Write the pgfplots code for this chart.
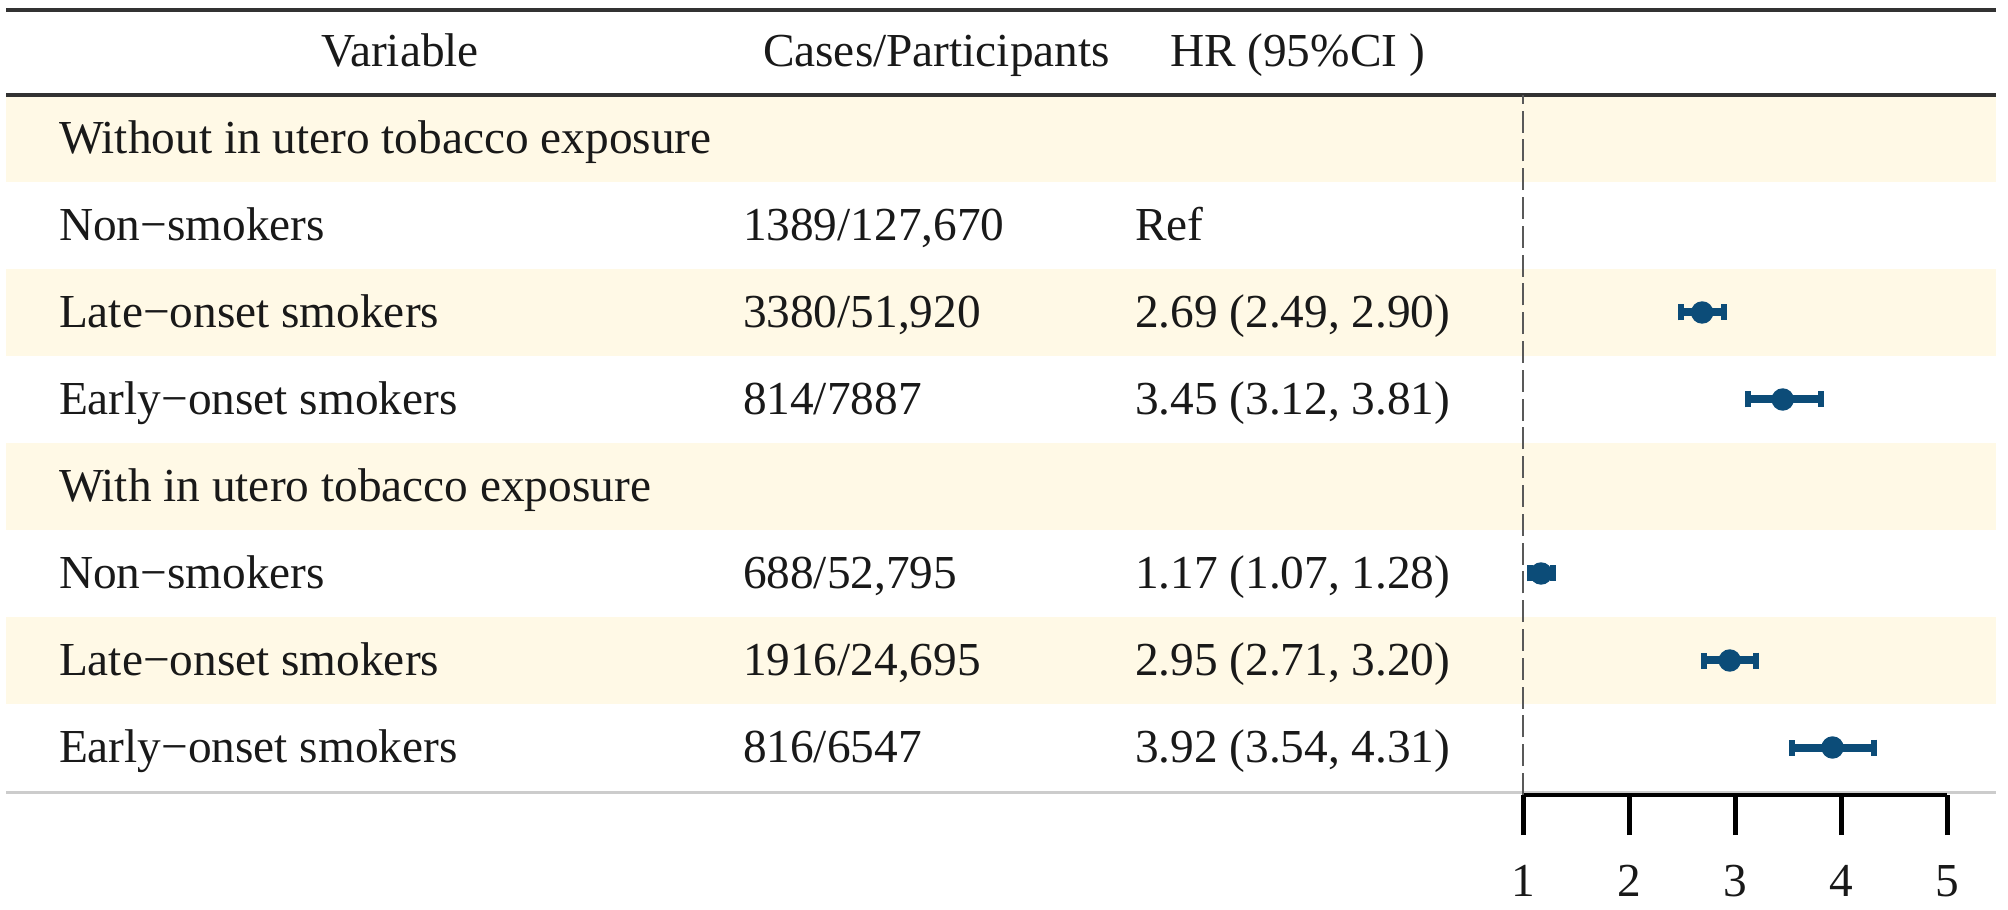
\documentclass[border=0pt]{standalone}
\usepackage{fontspec}
\setmainfont{Liberation Serif}
\usepackage{pgfplots}
\pgfplotsset{compat=1.18}
\definecolor{band}{RGB}{255,249,230}
\definecolor{ptc}{RGB}{12,76,120}
\definecolor{rulec}{RGB}{50,50,50}
\definecolor{txt}{RGB}{25,25,25}
\newcommand{\tf}{\fontsize{11.83pt}{14pt}\selectfont}
\tikzset{tx/.style={inner sep=0pt, outer sep=0pt, font=\tf, text=txt}}
\begin{document}
\begin{tikzpicture}
\path[use as bounding box] (0,0) rectangle (502pt,227.25pt);
\begin{axis}[at={(0pt,0pt)}, anchor=south west, width=502pt, height=227.25pt,
  scale only axis, xmin=0, xmax=2008, ymin=0, ymax=909, hide axis, clip=false]
  % shaded rows
  \fill[band] (axis cs:6,814) rectangle (axis cs:1996,727);
  \fill[band] (axis cs:6,640) rectangle (axis cs:1996,553);
  \fill[band] (axis cs:6,466) rectangle (axis cs:1996,379);
  \fill[band] (axis cs:6,292) rectangle (axis cs:1996,205);
  % rules
  \draw[rulec, line width=1pt] (axis cs:6,899) -- (axis cs:1996,899);
  \draw[rulec, line width=1pt] (axis cs:6,814) -- (axis cs:1996,814);
  \draw[black!20, line width=0.75pt] (axis cs:6,117) -- (axis cs:1996,117);
  % header
  \node[tx, anchor=base] at (axis cs:400,842) {Variable};
  \node[tx, anchor=base west] at (axis cs:763,842) {Cases/Participants};
  \node[tx, anchor=base west] at (axis cs:1170,842) {HR (95\%CI )};
  % rows
  \node[tx, anchor=base west] at (axis cs:59,755.5) {Without in utero tobacco exposure};
  \node[tx, anchor=base west] at (axis cs:59,668.5) {Non−smokers};
  \node[tx, anchor=base west] at (axis cs:743,668.5) {1389/127,670};
  \node[tx, anchor=base west] at (axis cs:1135,668.5) {Ref};
  \node[tx, anchor=base west] at (axis cs:59,581.5) {Late−onset smokers};
  \node[tx, anchor=base west] at (axis cs:743,581.5) {3380/51,920};
  \node[tx, anchor=base west] at (axis cs:1135,581.5) {2.69 (2.49, 2.90)};
  \node[tx, anchor=base west] at (axis cs:59,494.5) {Early−onset smokers};
  \node[tx, anchor=base west] at (axis cs:743,494.5) {814/7887};
  \node[tx, anchor=base west] at (axis cs:1135,494.5) {3.45 (3.12, 3.81)};
  \node[tx, anchor=base west] at (axis cs:59,407.5) {With in utero tobacco exposure};
  \node[tx, anchor=base west] at (axis cs:59,320.5) {Non−smokers};
  \node[tx, anchor=base west] at (axis cs:743,320.5) {688/52,795};
  \node[tx, anchor=base west] at (axis cs:1135,320.5) {1.17 (1.07, 1.28)};
  \node[tx, anchor=base west] at (axis cs:59,233.5) {Late−onset smokers};
  \node[tx, anchor=base west] at (axis cs:743,233.5) {1916/24,695};
  \node[tx, anchor=base west] at (axis cs:1135,233.5) {2.95 (2.71, 3.20)};
  \node[tx, anchor=base west] at (axis cs:59,146.5) {Early−onset smokers};
  \node[tx, anchor=base west] at (axis cs:743,146.5) {816/6547};
  \node[tx, anchor=base west] at (axis cs:1135,146.5) {3.92 (3.54, 4.31)};
\end{axis}
\begin{axis}[at={(380.75pt,28.5pt)}, anchor=south west, width=106pt, height=175pt,
  scale only axis, xmin=1, xmax=5, ymin=114, ymax=814,
  axis x line=bottom, hide y axis, x axis line style={-, line width=1pt, black},
  xtick={1,2,3,4,5}, tick align=outside, major tick length=10pt,
  xtick style={line width=1.25pt, black},
  xticklabel style={font=\tf, text=txt, yshift=-4pt},
  /pgf/number format/assume math mode=true, clip=false]
  \addplot[draw=black!65, line width=0.7pt, dash pattern=on 5.5pt off 1.7pt]
    coordinates {(1,114) (1,814)};
  \addplot[only marks, mark=*, mark size=2.6pt, color=ptc,
    error bars/.cd, x dir=both, x explicit,
    error bar style={line width=2pt, color=ptc},
    error mark options={line width=1.5pt, mark size=2pt, rotate=90, color=ptc}]
  coordinates {
    (2.69,596.5) += (0.21,0) -= (0.20,0)
    (3.45,509.5) += (0.36,0) -= (0.33,0)
    (1.17,335.5) += (0.11,0) -= (0.10,0)
    (2.95,248.5) += (0.25,0) -= (0.24,0)
    (3.92,161.5) += (0.39,0) -= (0.38,0)
  };
\end{axis}
\end{tikzpicture}
\end{document}
